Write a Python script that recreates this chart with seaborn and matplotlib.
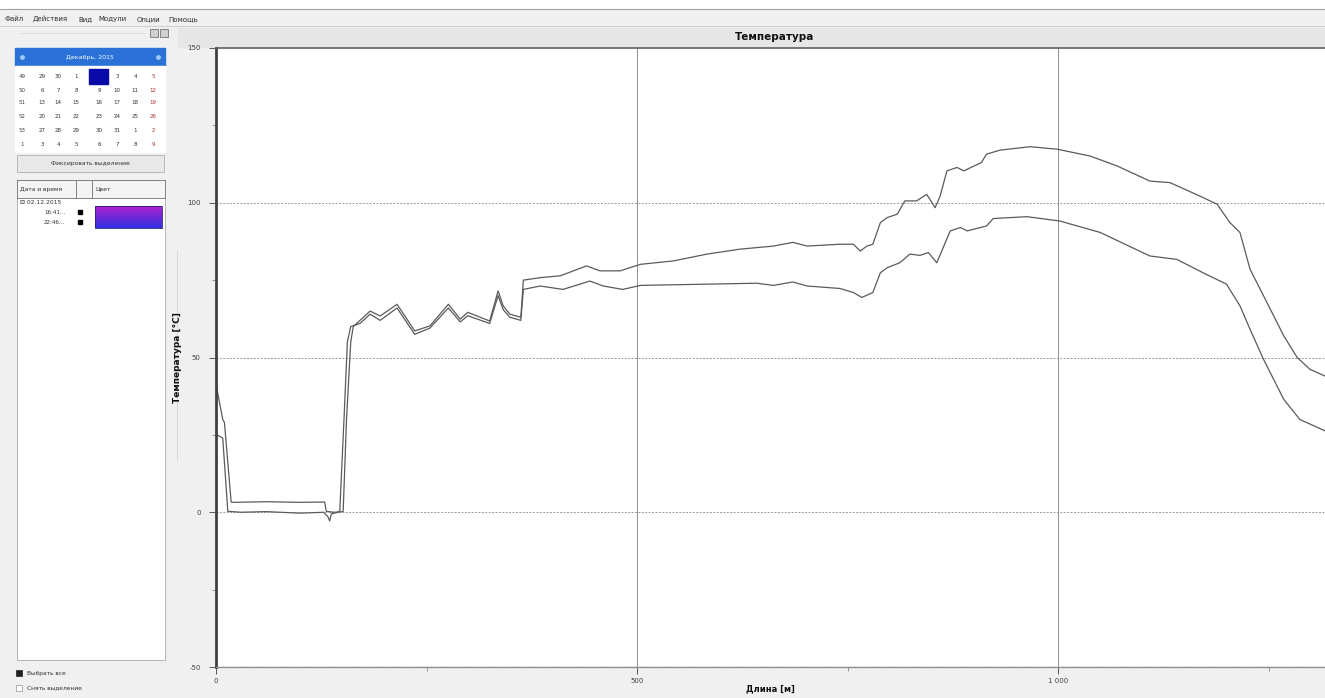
import numpy as np
import pandas as pd
import matplotlib
matplotlib.use("Agg")
import matplotlib.pyplot as plt
from matplotlib.patches import Rectangle
from matplotlib.ticker import MultipleLocator
import seaborn as sns

# Trace data (distance in m, temperature in C)
dist_1 = [0, 1, 8, 10, 18, 20, 60, 100, 129, 131,
          140, 151, 155, 160, 163, 171, 183, 195, 215, 236,
          254, 276, 290, 299, 325, 335, 341, 349, 362, 365,
          385, 409, 440, 456, 480, 504, 543, 583, 622, 662,
          685, 702, 741, 757, 765, 773, 780, 789, 797, 809,
          818, 832, 844, 854, 860, 868, 880, 888, 909, 915,
          931, 967, 999, 1038, 1070, 1109, 1133, 1172, 1189, 1204,
          1216, 1228, 1248, 1268, 1284, 1299, 1317]
temp_1 = [40, 40, 30, 29, 3.3, 3.2, 3.4, 3.2, 3.3, 0.3,
          0, 0.2, 30, 55, 60, 62, 65, 63.4, 67.2, 58.6,
          60.2, 67.2, 62.4, 64.6, 61.8, 71.5, 66.7, 64, 63, 75,
          75.8, 76.4, 79.6, 78, 78, 80.1, 81.2, 83.4, 85, 86,
          87.2, 86, 86.6, 86.6, 84.4, 86, 86.6, 93.6, 95.2, 96.3,
          100.6, 100.6, 102.7, 98.4, 102.2, 110.3, 111.4, 110.3, 113, 115.7,
          117, 118.1, 117.3, 115.1, 111.9, 107, 106.5, 101.7, 99.5, 93.6,
          90.4, 78.5, 67.8, 57, 50, 46.2, 44]

dist_2 = [0, 1, 8, 14, 30, 60, 100, 128, 133, 135,
          137, 145, 147, 152, 156, 160, 171, 183, 195, 215,
          236, 254, 276, 290, 299, 325, 335, 341, 349, 362,
          365, 385, 412, 444, 460, 483, 504, 583, 642, 662,
          685, 702, 741, 757, 767, 780, 789, 797, 812, 824,
          836, 846, 856, 866, 872, 884, 892, 915, 923, 963,
          1002, 1050, 1109, 1141, 1172, 1200, 1216, 1228, 1244, 1268,
          1287, 1317]
temp_2 = [25, 25, 24, 0.3, 0, 0.2, -0.3, 0, -1.5, -2.8,
          -0.5, 0, 0.5, 30, 55, 60, 61, 64, 62, 66,
          57.5, 59.5, 66, 61.5, 63.5, 61, 70, 65.5, 63, 62,
          72, 73.1, 72, 74.7, 73.1, 72, 73.3, 73.7, 74, 73.3,
          74.4, 73.1, 72.3, 71, 69.4, 71, 77.4, 79, 80.6, 83.4,
          83, 83.9, 80.6, 87.1, 90.9, 92, 90.9, 92.5, 94.9, 95.5,
          94.1, 90.4, 82.8, 81.7, 77.4, 73.7, 66.7, 59.1, 49.4, 36.5,
          30, 26.3]

y_ticks = [-50, 0, 50, 100, 150]
x_ticks = [0, 500, 1000]
x_tick_labels = ["0", "500", "1 000"]

menu_items = ["Файл", "Действия", "Вид", "Модули", "Опции", "Помощь"]
week_nums = ["49", "50", "51", "52", "53", "1"]
cal_days = [["29", "30", "1", "2", "3", "4", "5"],
            ["6", "7", "8", "9", "10", "11", "12"],
            ["13", "14", "15", "16", "17", "18", "19"],
            ["20", "21", "22", "23", "24", "25", "26"],
            ["27", "28", "29", "30", "31", "1", "2"],
            ["3", "4", "5", "6", "7", "8", "9"]]

df = pd.concat([
    pd.DataFrame({"dist": dist_1, "temp": temp_1, "time": "16:41"}),
    pd.DataFrame({"dist": dist_2, "temp": temp_2, "time": "22:46"}),
])

sns.set_style("white")
plt.rcParams["font.family"] = ["DejaVu Sans"]

W, H = 1325, 698
fig = plt.figure(figsize=(W / 100, H / 100), dpi=100, facecolor="#f0f0f0")

# background layer in pixel coordinates for the application chrome
bg = fig.add_axes([0, 0, 1, 1])
bg.set_xlim(0, W)
bg.set_ylim(H, 0)
bg.axis("off")

bg.add_patch(Rectangle((0, 0), W, 9, color="white"))
bg.plot([0, W], [9, 9], color="#a0a0a0", lw=0.8)
menu_x = [5, 33, 78, 98, 137, 168]
for mx, m in zip(menu_x, menu_items):
    bg.text(mx, 19, m, fontsize=5, color="#303030", va="center")
bg.plot([0, W], [26, 26], color="#c8c8c8", lw=0.6)

# small toolbar above the calendar
bg.add_patch(Rectangle((150, 29), 8, 8, fc="#d0d0d0", ec="#606060", lw=0.5))
bg.add_patch(Rectangle((160, 29), 8, 8, fc="#d0d0d0", ec="#606060", lw=0.5))
bg.plot([20, 145], [33, 33], color="#d8d8d8", lw=0.5)

# calendar
bg.add_patch(Rectangle((15, 48), 150, 18, color="#2a72d8"))
bg.text(90, 57, "Декабрь, 2015", fontsize=4.5, color="white", ha="center", va="center")
bg.plot([22, 158], [57, 57], "o", color="#9ec9ff", ms=2.5)
bg.add_patch(Rectangle((15, 66), 150, 86, color="white"))
col_x = [22, 42, 58, 76, 99, 117, 135, 153]
row_y = [77, 90, 103, 117, 130, 144]
bg.add_patch(Rectangle((89, 69), 19, 15, color="#0a0aa8"))
for r, (wk, days) in enumerate(zip(week_nums, cal_days)):
    bg.text(col_x[0], row_y[r], wk, fontsize=4, color="#404040", ha="center", va="center")
    for c, d in enumerate(days):
        color = "#b03030" if c == 6 else "#303030"
        if r == 0 and c == 3:
            continue
        bg.text(col_x[c + 1], row_y[r], d, fontsize=4, color=color, ha="center", va="center")

# button
bg.add_patch(Rectangle((17, 155), 147, 17, fc="#e8e8e8", ec="#b0b0b0", lw=0.6))
bg.text(90, 164, "Фиксировать выделение", fontsize=4.3, color="#303030", ha="center", va="center")

# table with measurement list
bg.add_patch(Rectangle((17, 180), 148, 480, fc="white", ec="#a8a8a8", lw=0.6))
bg.add_patch(Rectangle((17, 180), 148, 18, fc="#f4f4f4", ec="#707070", lw=0.6))
bg.plot([76, 76], [180, 198], color="#707070", lw=0.6)
bg.plot([92, 92], [180, 198], color="#707070", lw=0.6)
bg.text(20, 189, "Дата и время", fontsize=4.3, color="#303030", va="center")
bg.text(95, 189, "Цвет", fontsize=4.3, color="#303030", va="center")
bg.text(20, 202, "⊟ 02.12.2015", fontsize=4.3, color="#303030", va="center")
bg.text(44, 212, "16:41...", fontsize=4, color="#303030", va="center")
bg.text(44, 222, "22:46...", fontsize=4, color="#303030", va="center")
bg.plot([80, 80], [212, 222], "s", color="black", ms=2.2)
grad = np.linspace(0, 1, 64).reshape(-1, 1)
bg.imshow(grad, extent=(95, 162, 228, 206), aspect="auto",
          cmap=matplotlib.colors.LinearSegmentedColormap.from_list("sw", ["#b020d0", "#3030e0"]),
          zorder=3)
bg.add_patch(Rectangle((95, 206), 67, 22, fill=False, ec="#202080", lw=0.6, zorder=4))

# bottom check boxes
bg.add_patch(Rectangle((16, 670), 6, 6, fc="#202020", ec="#202020", lw=0.5))
bg.text(27, 673, "Выбрать все", fontsize=4.2, color="#303030", va="center")
bg.add_patch(Rectangle((16, 685), 6, 6, fc="white", ec="#909090", lw=0.5))
bg.text(27, 688, "Снять выделение", fontsize=4.2, color="#303030", va="center")

# faint separator beside the y label
bg.plot([177, 177], [250, 460], color="#d4d4d4", lw=0.6)

# chart header band
bg.add_patch(Rectangle((178, 28), W - 178, 19, color="#e6e6e6"))
bg.text(775, 37, "Температура", fontsize=7.5, fontweight="bold", ha="center", va="center", color="#101010")

# main chart
left = 216 / W
right = 1.0
bottom = 1 - 667 / H
top = 1 - 48 / H
ax = fig.add_axes([left, bottom, right - left, top - bottom])
ax.set_facecolor("white")

sns.lineplot(data=df, x="dist", y="temp", hue="time", palette=["#5a5a5a", "#5a5a5a"],
             estimator=None, sort=False, legend=False, linewidth=0.9, ax=ax)

ax.set_xlim(0, 1317)
ax.set_ylim(-50, 150)
ax.set_yticks(y_ticks)
ax.set_yticklabels([str(v) for v in y_ticks])
ax.set_xticks(x_ticks)
ax.set_xticklabels(x_tick_labels)
ax.yaxis.set_minor_locator(MultipleLocator(25))
ax.xaxis.set_minor_locator(MultipleLocator(250))
ax.tick_params(axis="both", which="major", labelsize=5, colors="#404040", length=5, width=0.6,
               direction="out", left=True, bottom=True)
ax.tick_params(axis="both", which="minor", length=3, width=0.5, colors="#707070",
               left=True, bottom=True)
ax.tick_params(axis="y", which="major", pad=6)
ax.tick_params(axis="x", which="major", pad=3)

for v in [0, 50, 100]:
    ax.axhline(v, color="#9a9a9a", lw=0.7, ls=(0, (2, 1.5)), zorder=0)
ax.axhline(-50, color="#a0a0a0", lw=1.0, ls=(0, (2, 1.5)), zorder=0)
for v in [500, 1000]:
    ax.axvline(v, color="#909090", lw=0.7, zorder=0)

ax.spines["right"].set_visible(False)
ax.spines["left"].set_color("#404040")
ax.spines["left"].set_linewidth(2.0)
ax.spines["top"].set_color("#606060")
ax.spines["top"].set_linewidth(1.2)
ax.spines["top"].set_linestyle((0, (2, 1)))
ax.spines["bottom"].set_color("#909090")
ax.spines["bottom"].set_linewidth(1.0)

ax.set_xlabel("Длина [м]", fontsize=6, fontweight="bold", color="#101010", labelpad=0)
ax.set_ylabel("Температура [°C]", fontsize=6.5, fontweight="bold", color="#101010", labelpad=4)

fig.savefig("out.png", dpi=100, facecolor=fig.get_facecolor())
